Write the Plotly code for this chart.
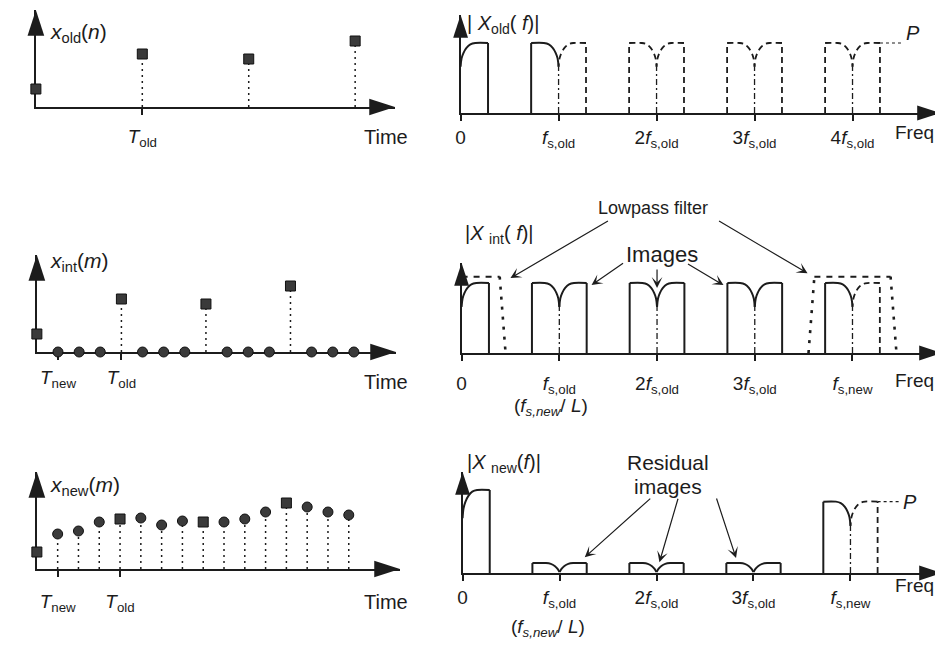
import plotly.graph_objects as go

# the page body adds an 8px margin, so the figure is shifted by (OX, OY)
OX, OY = 8, 8
W, H = 943 - OX, 662 - OY
INK = '#1c1c1c'
FONT = 'Liberation Sans, Arial, sans-serif'

# ---------------- data ----------------
L = 4                                    # interpolation factor
n_old = [0, 1, 2, 3]
x_old = [18, 53, 48, 66]                 # x_old(n)
m_int = list(range(16))
x_int = [x_old[m // L] if m % L == 0 else 0 for m in m_int]   # zero-stuffed
m_new = list(range(16))
x_new = [17, 35, 38, 47, 50, 51, 44, 48, 47, 47, 50, 57, 66, 62, 57, 54]

# spectral images, frequency in units of fs_old
img_centers = [0, 1, 2, 3, 4]
shape_d = [0.0, 0.01, 0.03, 0.06, 0.10, 0.15, 0.28]     # offset from image centre
shape_m = [0.66, 0.78, 0.86, 0.93, 0.98, 1.0, 1.0]      # magnitude (P = 1)
resid_d = [0.0, 0.02, 0.05, 0.09, 0.14, 0.28]
resid_m = [0.01, 0.05, 0.085, 0.11, 0.12, 0.12]

old_left = [None, 'solid', 'dash', 'dash', 'dash']
old_right = ['solid', 'dash', 'dash', 'dash', 'dash']
old_gain = [1.0, 1.0, 1.0, 1.0, 1.0]
old_kind = ['main'] * 5

int_left = [None, 'solid', 'solid', 'solid', 'solid']
int_right = ['solid', 'solid', 'solid', 'solid', 'dash']
int_gain = [1.0, 1.0, 1.0, 1.0, 1.0]
int_kind = ['main'] * 5

new_left = [None, 'solid', 'solid', 'solid', 'solid']
new_right = ['solid', 'solid', 'solid', 'solid', 'dash']
new_gain = [1.0, 1.0, 1.0, 1.0, 0.86]
new_kind = ['main', 'resid', 'resid', 'resid', 'main']

filt_gain = 1.09
filt_pass = 0.39
filt_stop = 0.45
filt_centers = [0, 4]

time_old_ticks = [1]
time_old_labels = ['<i>T</i><sub>old</sub>']
time_new_ticks = [1, L]
time_new_labels = ['<i>T</i><sub>new</sub>', '<i>T</i><sub>old</sub>']
freq_ticks = [0, 1, 2, 3, 4]
freq_old_labels = ['0', '<i>f</i><sub>s,old</sub>', '2<i>f</i><sub>s,old</sub>',
                   '3<i>f</i><sub>s,old</sub>', '4<i>f</i><sub>s,old</sub>']
freq_new_labels = ['0', '<i>f</i><sub>s,old</sub>', '2<i>f</i><sub>s,old</sub>',
                   '3<i>f</i><sub>s,old</sub>', '<i>f</i><sub>s,new</sub>']

# ---------------- layout geometry (pixels of the target picture) ----------------
geom = {
    'L1': dict(idx=1, xd=(31, 392), yd=(10, 107), xr=(0, 3.374), yr=(0, 97),
               tv=time_old_ticks, tt=time_old_labels, so=5),
    'R1': dict(idx=2, xd=(458, 940), yd=(15, 113), xr=(0, 4.893), yr=(0, 1.40),
               tv=freq_ticks, tt=freq_old_labels, so=0),
    'L2': dict(idx=3, xd=(32, 393), yd=(255, 352), xr=(0, 16.99), yr=(0, 97),
               tv=time_new_ticks, tt=time_new_labels, so=1),
    'R2': dict(idx=4, xd=(459, 942), yd=(263, 353), xr=(0, 4.916), yr=(0, 1.286),
               tv=freq_ticks, tt=freq_new_labels, so=6),
    'L3': dict(idx=5, xd=(32, 397), yd=(472, 569), xr=(0, 17.46), yr=(0, 97),
               tv=time_new_ticks, tt=time_new_labels, so=8),
    'R3': dict(idx=6, xd=(460, 942), yd=(472, 573), xr=(0, 4.944), yr=(0, 1.217),
               tv=freq_ticks, tt=freq_new_labels, so=0),
}


def fx(xp):
    return (xp - OX) / W


def fy(yp):
    return 1 - (yp - OY) / H


fig = go.Figure()


def suffix(p):
    i = geom[p]['idx']
    return '' if i == 1 else str(i)


def tr(p, **kw):
    s = suffix(p)
    kw.setdefault('hoverinfo', 'skip')
    kw.setdefault('showlegend', False)
    kw.setdefault('cliponaxis', False)
    fig.add_trace(go.Scatter(xaxis='x' + s, yaxis='y' + s, **kw))


layout_axes = {}
for p, g in geom.items():
    s = suffix(p)
    layout_axes['xaxis' + s] = dict(
        domain=[fx(g['xd'][0]), fx(g['xd'][1])], range=list(g['xr']), anchor='y' + s,
        showline=True, linewidth=2, linecolor=INK, showgrid=False, zeroline=False,
        ticks='outside', ticklen=6, tickwidth=1.6, tickcolor=INK,
        tickvals=g['tv'], ticktext=g['tt'], ticklabelstandoff=g['so'],
        tickfont=dict(family=FONT, size=19, color=INK), layer='below traces', fixedrange=True)
    layout_axes['yaxis' + s] = dict(
        domain=[fy(g['yd'][1]), fy(g['yd'][0])], range=list(g['yr']), anchor='x' + s,
        showline=True, linewidth=2, linecolor=INK, showgrid=False, zeroline=False,
        showticklabels=False, ticks='', layer='below traces', fixedrange=True)
    # arrowheads at the axis ends
    big = 27 if p.startswith('L') else 24
    tr(p, x=[g['xr'][1], 0], y=[0, g['yr'][1]], mode='markers',
       marker=dict(symbol='arrow', angle=[90, 0], size=big, color=INK, line=dict(width=0)))

# ---------------- time-domain panels ----------------
STEM = dict(color=INK, width=1.5, dash='2px,4px')
MK = dict(color='#3a3a3a', size=10, line=dict(color='#111', width=1))


def stems(p, xs, ys):
    sx, sy = [], []
    for x, y in zip(xs, ys):
        if y > 0 and x > 0:
            sx += [x, x, None]
            sy += [0, y, None]
    tr(p, x=sx, y=sy, mode='lines', line=STEM)


# panel 1
stems('L1', n_old, x_old)
tr('L1', x=n_old, y=x_old, mode='markers', marker=dict(symbol='square', **MK))

# panel 2
stems('L2', m_int, x_int)
sq = [m for m in m_int if m % L == 0]
ci = [m for m in m_int if m % L != 0]
tr('L2', x=ci, y=[x_int[m] for m in ci], mode='markers', marker=dict(symbol='circle', **MK))
tr('L2', x=sq, y=[x_int[m] for m in sq], mode='markers', marker=dict(symbol='square', **MK))

# panel 3
stems('L3', m_new, x_new)
sq = [m for m in m_new if m % L == 0]
ci = [m for m in m_new if m % L != 0]
tr('L3', x=ci, y=[x_new[m] for m in ci], mode='markers', marker=dict(symbol='circle', **MK))
tr('L3', x=sq, y=[x_new[m] for m in sq], mode='markers', marker=dict(symbol='square', **MK))

# ---------------- spectra ----------------
LSTY = {'solid': dict(color=INK, width=2),
        'dash': dict(color=INK, width=1.8, dash='6px,4px')}


def spectrum(p, lefts, rights, gains, kinds):
    segs = {k: ([], [], [], []) for k in LSTY}
    cxs, cys = [], []
    for c, ls, rs, gn, kd in zip(img_centers, lefts, rights, gains, kinds):
        d, m = (shape_d, shape_m) if kd == 'main' else (resid_d, resid_m)
        for side, st in ((-1, ls), (1, rs)):
            if st is None:
                continue
            ex, ey, cx, cy = segs[st]
            e = c + side * d[-1]
            ex += [e, e, None]
            ey += [0, gn * m[-1], None]
            cx += [c + side * dd for dd in reversed(d)] + [None]
            cy += [gn * mm for mm in reversed(m)] + [None]
        if c > 0 and kd == 'main':
            cxs += [c, c, None]
            cys += [0, gn * m[0], None]
    for st, (ex, ey, cx, cy) in segs.items():
        if ex:
            tr(p, x=ex, y=ey, mode='lines', line=LSTY[st])
            tr(p, x=cx, y=cy, mode='lines', line=dict(shape='spline', smoothing=1.0, **LSTY[st]))
    if cxs:
        tr(p, x=cxs, y=cys, mode='lines', line=dict(color=INK, width=1.3, dash='6px,3px,2px,3px'))


spectrum('R1', old_left, old_right, old_gain, old_kind)
spectrum('R2', int_left, int_right, int_gain, int_kind)
spectrum('R3', new_left, new_right, new_gain, new_kind)

# lowpass filter response
tx, ty, ex, ey = [], [], [], []
for c in filt_centers:
    lo = max(c - filt_pass, 0)
    if c - filt_pass > 0:
        ex += [c - filt_stop, c - filt_pass, None]
        ey += [0, filt_gain, None]
    tx += [lo, c + filt_pass, None]
    ty += [filt_gain, filt_gain, None]
    ex += [c + filt_pass, c + filt_stop, None]
    ey += [filt_gain, 0, None]
tr('R2', x=tx, y=ty, mode='lines', line=dict(color=INK, width=2, dash='6px,6px'))
tr('R2', x=ex, y=ey, mode='lines', line=dict(color=INK, width=2.6, dash='3px,7px'))

# P reference lines
edge = img_centers[-1] + shape_d[-1]
tr('R1', x=[edge, edge + 0.24], y=[old_gain[-1]] * 2, mode='lines',
   line=dict(color=INK, width=1.2, dash='3px,3px'))
tr('R3', x=[edge, edge + 0.23], y=[new_gain[-1]] * 2, mode='lines',
   line=dict(color=INK, width=1.2, dash='3px,3px'))

# ---------------- text ----------------
anns = []


def text(t, xp, yp, size=18, xanchor='center'):
    anns.append(dict(text=t, x=fx(xp), y=fy(yp), xref='paper', yref='paper',
                     xanchor=xanchor, yanchor='middle', showarrow=False,
                     font=dict(family=FONT, size=size, color=INK)))


text('<i>x</i><sub>old</sub>(<i>n</i>)', 43, 33, 21, 'left')
text('<i>x</i><sub>int</sub>(<i>m</i>)', 43, 262, 21, 'left')
text('<i>x</i><sub>new</sub>(<i>m</i>)', 43, 486, 21, 'left')
text('| <i>X</i><sub>old</sub>( <i>f</i>)|', 462, 25, 20, 'left')
text('|<i>X</i> <sub>int</sub>( <i>f</i>)|', 460, 234, 20, 'left')
text('|<i>X</i> <sub>new</sub>(<i>f</i>)|', 462, 463, 20, 'left')

for yp in (137, 382, 602):
    text('Time', 383, yp, 20)
for yp in (132, 380, 585):
    text('Freq', 914, yp, 19)

text('(<i>f</i><sub><i>s,new</i></sub>/ <i>L</i>)', 549, 407, 19)
text('(<i>f</i><sub><i>s,new</i></sub>/ <i>L</i>)', 546, 628, 19)

text('<i>P</i>', 913, 33, 20)
text('<i>P</i>', 910, 502, 20)

text('Lowpass filter', 651, 208, 18)
text('Images', 660, 255, 22)
text('Residual', 667, 462, 21)
text('images', 667, 486, 21)


def callout(p, x, y, ax, ay):
    s = suffix(p)
    anns.append(dict(text='', x=x, y=y, xref='x' + s, yref='y' + s, ax=ax, ay=ay,
                     showarrow=True, arrowhead=3, arrowsize=1.5, arrowwidth=1.2,
                     arrowcolor=INK, standoff=0, startstandoff=0))


# Lowpass filter arrows
callout('R2', 0.50, 1.07, 99, -58)
callout('R2', 3.54, 1.14, -90, -53)
# Images arrows
callout('R2', 1.33, 0.97, 33, -23)
callout('R2', 2.00, 0.93, 0, -20)
callout('R2', 2.68, 0.97, -37, -22)
# Residual image arrows
callout('R3', 1.26, 0.19, 67, -60)
callout('R3', 2.03, 0.13, 19, -65)
callout('R3', 2.82, 0.18, -20, -61)

fig.update_layout(width=W, height=H, margin=dict(l=0, r=0, t=0, b=0),
                  paper_bgcolor='white', plot_bgcolor='rgba(0,0,0,0)',
                  showlegend=False, annotations=anns, **layout_axes)

fig.write_html('out.html')
